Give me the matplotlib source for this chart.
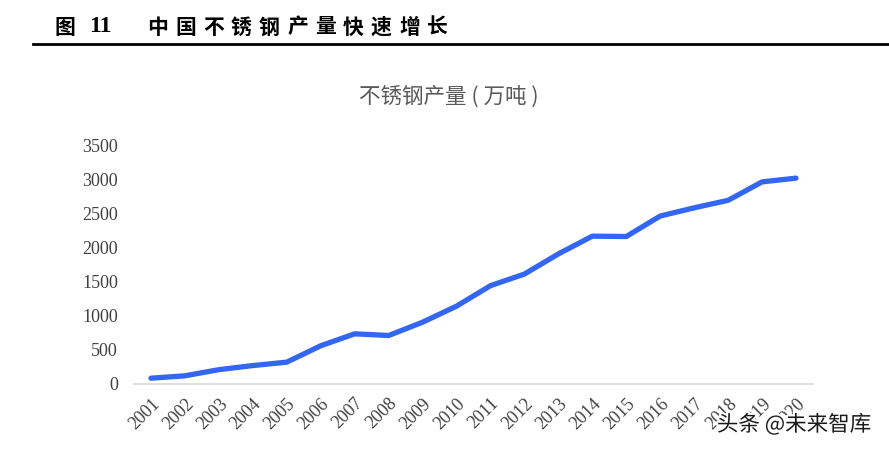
import matplotlib
matplotlib.use("Agg")
import matplotlib.pyplot as plt
import matplotlib.patheffects as pe
from matplotlib.lines import Line2D

plt.rcParams['font.family'] = ['Noto Sans CJK SC', 'DejaVu Sans']

# data (万吨)
years = [str(y) for y in range(2001, 2021)]
output = [85, 120, 210, 270, 320, 560, 735, 710, 905, 1140,
          1440, 1610, 1905, 2165, 2160, 2460, 2580, 2690, 2960, 3015]
yticks = [0, 500, 1000, 1500, 2000, 2500, 3000, 3500]

fig = plt.figure(figsize=(8.89, 4.5), dpi=100)

# report style header: "图 11" + spaced title, rule below
W, H = 889, 450
fig.text(54 / W, 1 - 27 / H, "图", fontsize=15, fontweight='bold',
         ha='left', va='center', color='black')
fig.text(89 / W, 1 - 27 / H, "11", fontsize=17, fontweight='bold',
         family='Liberation Serif', ha='left', va='center', color='black')
head = "中国不锈钢产量快速增长"
for i, ch in enumerate(head):
    fig.text((147 + i * 28.0) / W, 1 - 27 / H, ch, fontsize=15, fontweight='bold',
             ha='left', va='center', color='black')
fig.add_artist(Line2D([33 / W, 1.0], [1 - 44 / H, 1 - 44 / H], color='black',
                      linewidth=2, transform=fig.transFigure))

ax = fig.add_axes([134 / W, 1 - 384 / H, 679 / W, 239 / H])
x = list(range(len(years)))
ax.plot(x, output, color='#3366F2', linewidth=3.8, solid_capstyle='round',
        solid_joinstyle='round')

ax.set_xlim(-0.5, len(years) - 0.5)
ax.set_ylim(0, 3500)
ax.set_yticks(yticks)
ax.set_yticklabels([str(v) for v in yticks], family='Liberation Serif',
                   fontsize=13, color='#404040')
ax.set_xticks(x)
ax.set_xticklabels(years, family='Liberation Serif', fontsize=13,
                   color='#404040', rotation=45, ha='right', va='top',
                   rotation_mode='anchor')
ax.tick_params(axis='both', length=0)
ax.tick_params(axis='y', pad=11.5)
ax.tick_params(axis='x', pad=8)
for s in ['top', 'right', 'left']:
    ax.spines[s].set_visible(False)
ax.spines['bottom'].set_color('#D9D9D9')
ax.spines['bottom'].set_linewidth(1.2)

fig.text(449 / W, 1 - 97 / H, "不锈钢产量 ( 万吨 )", fontsize=15.5, color='#595959',
         ha='center', va='center')

# watermark
fig.text(794 / W, 1 - 425 / H, "头条 @未来智库", fontsize=15.5, color='#1a1a1a',
         ha='center', va='center',
         path_effects=[pe.withStroke(linewidth=3, foreground='white')])

fig.savefig("out.png", dpi=100)
